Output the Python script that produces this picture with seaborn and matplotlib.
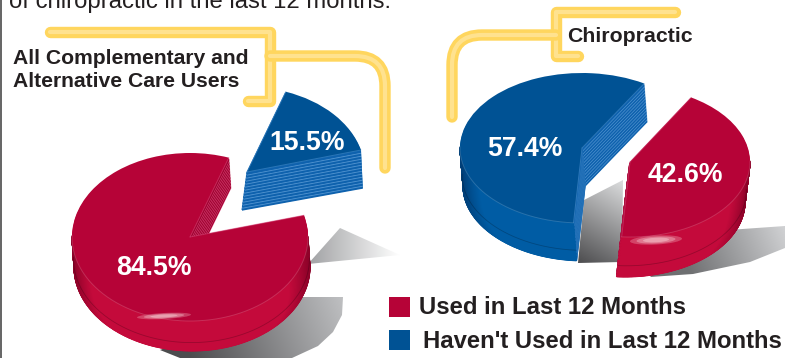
import numpy as np
import matplotlib
matplotlib.use("Agg")
import matplotlib.pyplot as plt
import seaborn as sns
from matplotlib.colors import LinearSegmentedColormap, to_rgb
from matplotlib.patches import Wedge, Rectangle, PathPatch, Polygon, Ellipse
from matplotlib.path import Path
from matplotlib.transforms import Affine2D

# Share of respondents, in percent
GROUPS = ["All Complementary and\nAlternative Care Users", "Chiropractic"]
USED_PCT = [84.5, 42.6]
NOT_USED_PCT = [15.5, 57.4]
LEGEND_LABELS = ["Used in Last 12 Months", "Haven't Used in Last 12 Months"]
INTRO_LINE = "of chiropractic in the last 12 months:"

sns.set_theme(style="white")
plt.rcParams["font.family"] = ["Liberation Sans", "DejaVu Sans"]

RED = dict(top="#B60337", dark="#8E0229", side="#C40A3B", wall="#A00230", stripe="#D8487A")
BLUE = dict(top="#005294", dark="#003F78", side="#005CA4", wall="#0F62AE", stripe="#4C90CE")
YELLOW = "#FFD65E"
YELLOW_CORE = "#FFE28F"
TEXT = "#231F20"

fig = plt.figure(figsize=(7.85, 3.58), dpi=100, facecolor="white")
ax = fig.add_axes([0, 0, 1, 1])
ax.set_xlim(0, 785)
ax.set_ylim(358, 0)
ax.axis("off")
sns.despine(ax=ax, left=True, bottom=True)

xx, yy = np.meshgrid(np.arange(785) + 0.5, np.arange(358) + 0.5)


def shadow(points, start, end, c0, c1):
    """Gradient-filled polygon used for a cast shadow."""
    sx, sy = start
    vx, vy = end[0] - sx, end[1] - sy
    p = np.clip(((xx - sx) * vx + (yy - sy) * vy) / (vx**2 + vy**2), 0, 1)[..., None]
    c0, c1 = np.array(to_rgb(c0)), np.array(to_rgb(c1))
    rgb = c0 + (c1 - c0) * p
    im = ax.imshow(rgb, extent=(0, 785, 358, 0), aspect="auto", zorder=1, interpolation="bilinear")
    im.set_clip_path(Polygon(points, closed=True, transform=ax.transData))


def slice3d(theta1, extent, cx, cy, rx, ry, off, grow, pal, z):
    """Extruded pie slice: stacked layers, shaded rim, then the flat top."""
    theta2 = theta1 + extent
    depth = int(abs(off[1]))
    for i in range(depth, 0, -1):
        f = i / depth
        ox, oy = off[0] * f, off[1] * f
        sx = rx * (1 + grow * f)
        tr = Affine2D().scale(sx, -ry).translate(cx + ox, cy + oy) + ax.transData
        ax.add_patch(Wedge((0, 0), 1, theta1, theta2, fc=pal["side"], ec="none", transform=tr, zorder=z))
        stripe = i % 3 == 0
        for th in (theta1, theta2):
            t = np.radians(th)
            ax.plot([cx + ox, cx + ox + sx * np.cos(t)], [cy + oy, cy + oy - ry * np.sin(t)],
                    color=pal["stripe"] if stripe else pal["wall"], lw=1.0, zorder=z,
                    solid_capstyle="butt")

    # Rim shading on the part of the arc that faces the viewer
    t = np.linspace(theta1, theta2, 400)
    t = t[np.sin(np.radians(t)) <= 0.02]
    if t.size:
        rad = np.radians(t)
        f = np.linspace(0, 1, 30)
        R, F = np.meshgrid(rad, f)
        X = cx + off[0] * F + rx * (1 + grow * F) * np.cos(R)
        Y = cy + off[1] * F - ry * np.sin(R)
        C = (1 - np.abs(np.cos(R)) ** 4) * (1 - 0.35 * F ** 3)
        cmap = LinearSegmentedColormap.from_list("rim", [pal["dark"], pal["side"], pal["side"]])
        ax.pcolormesh(X, Y, C, shading="gouraud", cmap=cmap, vmin=0, vmax=1, zorder=z + 0.1)
        ax.plot(cx + off[0] * 0.72 + rx * (1 + grow * 0.72) * np.cos(rad),
                cy + off[1] * 0.72 - ry * np.sin(rad),
                color="#000000", alpha=0.22, lw=0.6, zorder=z + 0.2)

    tr = Affine2D().scale(rx, -ry).translate(cx, cy) + ax.transData
    ax.add_patch(Wedge((0, 0), 1, theta1, theta2, fc=pal["top"], ec="none", transform=tr, zorder=z + 0.3))
    if t.size:
        ax.plot(cx + rx * np.cos(rad), cy - ry * np.sin(rad), color="white", alpha=0.16, lw=0.7, zorder=z + 0.4)
    for th in (theta1, theta2):
        a = np.radians(th)
        ax.plot([cx, cx + rx * np.cos(a)], [cy, cy - ry * np.sin(a)],
                color=pal["stripe"], alpha=0.55, lw=0.7, zorder=z + 0.4)


def glint(x, y, w, h, z):
    """Soft highlight on a pie rim."""
    for k, a in zip((1.0, 0.75, 0.5), (0.3, 0.4, 0.5)):
        ax.add_patch(Ellipse((x, y), w * k, h * k, angle=-3, fc="#F6C9CF", ec="none", alpha=a, zorder=z))


def connector(verts, codes):
    path = Path(verts, codes)
    for color, lw in ((YELLOW, 8.2), (YELLOW_CORE, 3.0)):
        ax.add_patch(PathPatch(path, fc="none", ec=color, lw=lw, capstyle="round", joinstyle="round", zorder=2))


shadow([(308, 264), (340, 228), (400, 255)], (310, 250), (400, 250), "#A2A3A5", "#FFFFFF")
shadow([(160, 350), (180, 358), (292, 358), (318, 346), (333, 332), (342, 315), (343, 297), (297, 297)],
       (190, 358), (343, 297), "#4C4C4E", "#BFC0C2")
shadow([(584, 200), (623, 180), (622, 262), (578, 263)], (580, 262), (625, 185), "#4F4F51", "#D8D9DA")
shadow([(700, 232), (785, 226), (785, 248), (750, 262), (693, 274), (650, 277)],
       (690, 275), (785, 232), "#6E6F71", "#CFD0D2")

M, L, C3 = Path.MOVETO, Path.LINETO, Path.CURVE3
connector([(50, 32), (270, 32), (270, 101), (248, 101)], [M, L, L, L])
connector([(270, 56), (355, 56), (385, 56), (385, 86), (385, 168)], [M, L, C3, C3, L])
connector([(675, 12), (556, 12), (556, 56), (578, 56)], [M, L, L, L])
connector([(556, 35), (482, 35), (452, 35), (452, 65), (452, 117)], [M, L, C3, C3, L])

# Angle where the slices start, and the degrees per percentage point
START = [15.0, -94.0]
deg = 360 / 100

# Left pie: used share is the big body, the remainder pulled out up and right
slice3d(START[0] + NOT_USED_PCT[0] * deg, USED_PCT[0] * deg, 190, 237, 118, 84, (2, 30), 0.0, RED, 3)
slice3d(START[0], NOT_USED_PCT[0] * deg, 247, 172, 118, 85, (-5, 38), 0.06, BLUE, 4)
# Right pie
slice3d(START[1] + USED_PCT[1] * deg, NOT_USED_PCT[1] * deg, 582, 148, 122, 75, (3, 38), 0.0, BLUE, 3)
slice3d(START[1], USED_PCT[1] * deg, 630, 162, 120, 75, (-5, 40), 0.0, RED, 4)
glint(164, 316, 54, 6, 6)
glint(656, 240, 52, 9, 6)

label_kw = dict(color="white", fontsize=19.2, fontweight="bold", ha="center", va="center", zorder=7)
ax.text(154, 268, f"{USED_PCT[0]}%", **label_kw)
ax.text(307, 143, f"{NOT_USED_PCT[0]}%", **label_kw)
ax.text(525, 149, f"{NOT_USED_PCT[1]}%", **label_kw)
ax.text(685, 175, f"{USED_PCT[1]}%", **label_kw)

ax.text(13, 70, GROUPS[0], color=TEXT, fontsize=15.2, fontweight="bold", ha="left", va="center", linespacing=1.22, zorder=7)
ax.text(567, 37, GROUPS[1], color=TEXT, fontsize=15.3, fontweight="bold", ha="left", va="center", zorder=7)
ax.text(9, 8, INTRO_LINE, color=TEXT, fontsize=17.2, ha="left", va="baseline", zorder=7)

for y, x, dy, col, lab in zip((297, 330), (419, 423), (10, 12), (RED["top"], BLUE["top"]), LEGEND_LABELS):
    ax.add_patch(Rectangle((389, y), 21, 20, fc=col, ec="none", zorder=7))
    ax.text(x, y + dy, lab, color=TEXT, fontsize=17.2, fontweight="bold", ha="left", va="center", zorder=7)

# Frame line down the left side
ax.plot([0.8, 0.8], [0, 358], color="#4A4A4A", lw=1.2, zorder=8)

fig.savefig("out.png", dpi=100, facecolor="white")
